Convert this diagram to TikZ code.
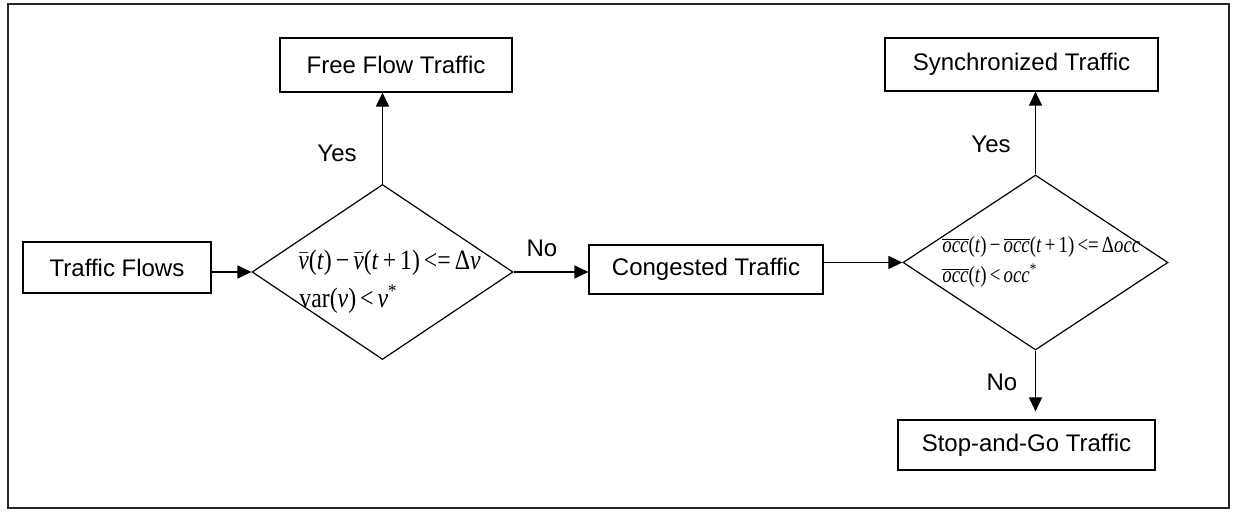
\documentclass[tikz,border=0pt]{standalone}
\usepackage{fontspec}
\setmainfont{Liberation Sans}
\newfontfamily\tms{Liberation Serif}
\usetikzlibrary{arrows.meta,shapes.geometric}
\newcommand{\bv}{$\bar{\mbox{\textit{v}}}$}
\newcommand{\bocc}{$\overline{\mbox{\textit{occ}}}$}
\begin{document}
\begin{tikzpicture}[x=0.5pt,y=-0.5pt,
  box/.style={draw,line width=0.6pt,inner sep=0pt,font=\fontsize{12}{14}\selectfont},
  dia/.style={draw,diamond,line width=0.6pt,inner sep=0pt},
  arr/.style={line width=0.6pt,-{Triangle[length=7pt,width=6.5pt]}},
  lbl/.style={font=\fontsize{12}{14}\selectfont,inner sep=0pt},
  fa/.style={anchor=base west,inner sep=0pt,font=\fontsize{14}{16}\selectfont\tms},
  fb/.style={anchor=base west,inner sep=0pt,font=\fontsize{11.5}{13}\selectfont\tms}]
\useasboundingbox (0,0) rectangle (1233,512);
\draw[line width=0.9pt,draw=black!85] (8,4) rectangle (1229,508);
% boxes
\node[box,minimum width=116pt,minimum height=27pt] (free) at (396,65) {Free Flow Traffic};
\node[box,minimum width=136.5pt,minimum height=26.5pt] (sync) at (1021.5,64.5) {Synchronized Traffic};
\node[box,minimum width=128.5pt,minimum height=25pt] (stop) at (1026.5,445) {Stop-and-Go Traffic};
\node[box,minimum width=94pt,minimum height=25.5pt] (flows) at (117,267.5) {Traffic Flows};
\node[box,minimum width=117pt,minimum height=24.5pt] (cong) at (706,269.5) {Congested Traffic};
% diamonds
\node[dia,minimum width=130.5pt,minimum height=87.5pt] (d1) at (382.5,272) {};
\node[dia,minimum width=132.5pt,minimum height=87.5pt] (d2) at (1035.5,262.5) {};
% formulas
\node[fa] (f1a) at (298,270) {\scalebox{0.85}[1]{\bv(\textit{t})\,−\,\bv(\textit{t}\,+\,1)\,<=\,Δ\textit{v}}};
\node[fa] (f1b) at (299,308) {\scalebox{0.85}[1]{var(\textit{v})\,<\,\textit{v}\textsuperscript{*}}};
\node[fb] (f2a) at (942,253) {\scalebox{0.82}[1]{\bocc(\textit{t})\,−\,\bocc(\textit{t}\,+\,1)\,<=\,Δ\textit{occ}}};
\node[fb] (f2b) at (942,283) {\scalebox{0.82}[1]{\bocc(\textit{t})\,<\,\textit{occ}\textsuperscript{*}}};
% connectors
\draw[arr] (flows.east |- d1.west) -- (d1.west);
\draw[arr] (d1.east) -- (d1.east -| cong.west);
\draw[arr] (d1.north) -- (d1.north |- free.south);
\draw[arr] (cong.east |- d2.west) -- (d2.west);
\draw[arr] (d2.north) -- (d2.north |- sync.south);
\draw[arr,shorten >=4pt] (d2.south) -- (d2.south |- stop.north);
% labels
\node[lbl] (yes1) at (337,153) {Yes};
\node[lbl] (yes2) at (991,144) {Yes};
\node[lbl] (no1) at (542,248) {No};
\node[lbl] (no2) at (1002,382) {No};
\end{tikzpicture}
\end{document}
